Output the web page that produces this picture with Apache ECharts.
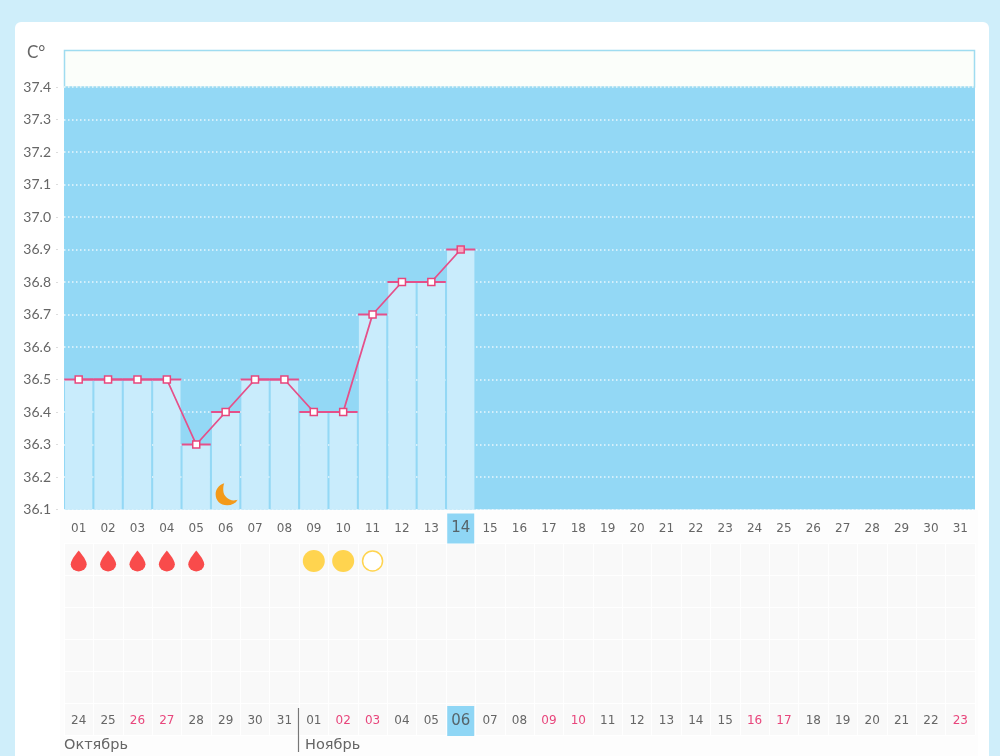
<!DOCTYPE html>
<html>
<head>
<meta charset="utf-8">
<style>
  html, body { margin: 0; padding: 0; width: 1000px; height: 756px; overflow: hidden; background: #cfeefa; }
  #card { position: absolute; left: 15px; top: 22px; width: 974px; height: 760px; background: #fff; border-radius: 6px; }
  #chart { position: absolute; left: 0; top: 0; width: 1000px; height: 756px; }
</style>
<script src="https://cdn.jsdelivr.net/npm/echarts@6/dist/echarts.min.js"></script>
</head>
<body>
<div id="card"></div>
<div id="chart"></div>
<script>
// chart data
const topDays = ['01','02','03','04','05','06','07','08','09','10','11','12','13','14','15','16','17','18','19','20','21','22','23','24','25','26','27','28','29','30','31'];
const bottomDays = ['24','25','26','27','28','29','30','31','01','02','03','04','05','06','07','08','09','10','11','12','13','14','15','16','17','18','19','20','21','22','23'];
const weekendDays = ['26','27','02','03','09','10','16','17','23'];
const temps = [36.5, 36.5, 36.5, 36.5, 36.3, 36.4, 36.5, 36.5, 36.4, 36.4, 36.7, 36.8, 36.8, 36.9];
const tableRows = ['r1', 'r2', 'r3', 'r4', 'r5', 'r6'];
const dropDays = ['01', '02', '03', '04', '05'];
const sunDays = ['09', '10'];
const emptySunDays = ['11'];
const moonDays = ['06'];
const todayTop = '14';
const todayBottom = '06';
const months = ['Октябрь', 'Ноябрь'];

const DROP = 'path://M8 0C8 0 0 10 0 15a8 8 0 0 0 16 0C16 10 8 0 8 0z';
const MOON = 'path://M9 0C3 2 0 7 0 12c0 7 5 12 12 12 5 0 9-2 11-6-1 .5-2 .7-4 .7-6 0-11-5-11-11 0-3 0-5 1-7.700z';
const PINK = '#e5508a';
const TEXT = '#666666';

const chart = echarts.init(document.getElementById('chart'));

const dayLabel = (today) => (v) => {
    if (v === today) return '{cur|' + v + '}';
    if (today === todayBottom && weekendDays.includes(v)) return '{red|' + v + '}';
    return v;
};
const richDay = {
    cur: { backgroundColor: '#8fd6f5', width: 27, height: 30, lineHeight: 30, align: 'center', fontSize: 15, color: '#56646a', fontFamily: 'DejaVu Sans' },
    red: { color: '#e8467c', fontSize: 12, fontFamily: 'DejaVu Sans' }
};

const option = {
    animation: false,
    backgroundColor: 'transparent',
    graphic: [
        { type: 'rect', z: -1, shape: { x: 60, y: 510, width: 918, height: 246 }, style: { fill: '#fdfdfd' } },
        { type: 'rect', shape: { x: 64.5, y: 50.5, width: 910, height: 36.5 }, style: { fill: '#fbfefa', stroke: '#9fdcf0', lineWidth: 1.5 } },
        { type: 'text', x: 27, y: 44, style: { text: 'C°', font: '17px Lato', fill: TEXT } },
        { type: 'text', x: 64, y: 738, style: { text: months[0], font: '14.5px "DejaVu Sans"', fill: TEXT } },
        { type: 'text', x: 305, y: 738, style: { text: months[1], font: '14.5px "DejaVu Sans"', fill: TEXT } },
        { type: 'line', z: 20, shape: { x1: 298.5, y1: 708, x2: 298.5, y2: 752 }, style: { stroke: '#777', lineWidth: 1.2 } }
    ],
    grid: [
        { left: 64, top: 87, width: 911, height: 422.5, show: true, backgroundColor: '#93d8f5', borderWidth: 0 },
        { left: 64, top: 543, width: 911, height: 192, show: true, backgroundColor: '#f9f9f9', borderWidth: 0 }
    ],
    xAxis: [
        {
            type: 'category', gridIndex: 0, data: topDays, position: 'bottom',
            axisLine: { show: false }, axisTick: { show: false },
            axisLabel: { interval: 0, margin: 19, verticalAlign: 'middle', color: TEXT, fontSize: 12, fontFamily: 'DejaVu Sans', formatter: dayLabel(todayTop), rich: richDay }
        },
        {
            type: 'category', gridIndex: 1, data: bottomDays, position: 'bottom',
            axisLine: { show: false }, axisTick: { show: false },
            splitLine: { show: true, interval: 0, lineStyle: { color: '#ffffff', width: 1 } },
            axisLabel: { inside: true, interval: 0, margin: 14, verticalAlign: 'middle', color: TEXT, fontSize: 12, fontFamily: 'DejaVu Sans', formatter: dayLabel(todayBottom), rich: richDay }
        }
    ],
    yAxis: [
        {
            type: 'value', gridIndex: 0, min: 36.1, max: 37.4, interval: 0.1, offset: 6,
            axisLine: { show: false }, axisTick: { show: true, length: 2, lineStyle: { color: '#dddddd' } },
            splitLine: { show: true, lineStyle: { color: '#ffffff', width: 1.5, type: [1.5, 2.5], opacity: 0.8 } },
            axisLabel: { margin: 7, color: TEXT, fontSize: 14, fontFamily: 'Lato', formatter: (v) => v.toFixed(1) }
        },
        {
            type: 'category', gridIndex: 1, data: tableRows, inverse: true,
            axisLine: { show: false }, axisTick: { show: false }, axisLabel: { show: false },
            splitLine: { show: true, interval: 0, lineStyle: { color: '#ffffff', width: 1 } }
        }
    ],
    series: [
        {
            type: 'bar', xAxisIndex: 0, yAxisIndex: 0, data: temps,
            barCategoryGap: '7%', itemStyle: { color: '#c9ecfc' }, silent: true
        },
        {
            // pink cap on top of each bar
            type: 'scatter', xAxisIndex: 0, yAxisIndex: 0, z: 3, silent: true,
            data: temps.map((v, i) => [i, v]),
            symbol: 'rect', symbolSize: [29, 2], itemStyle: { color: PINK, opacity: 1 }
        },
        {
            type: 'line', xAxisIndex: 0, yAxisIndex: 0, z: 4, silent: true,
            data: temps.map((v, i) => (topDays[i] === todayTop
                ? { value: v, itemStyle: { color: '#f6a9c2', borderColor: '#e8467c', borderWidth: 1.5 } }
                : v)),
            symbol: 'rect', symbolSize: 7, showAllSymbol: true,
            lineStyle: { color: PINK, width: 1.8 },
            itemStyle: { color: '#ffffff', borderColor: '#e8467c', borderWidth: 1.5 }
        },
        {
            type: 'scatter', xAxisIndex: 0, yAxisIndex: 0, z: 5, silent: true,
            data: moonDays.map((d) => [d, 36.15]),
            symbol: MOON, symbolSize: [22, 22], symbolOffset: [1, 1], itemStyle: { color: '#f39a1a', opacity: 1 }
        },
        {
            type: 'scatter', xAxisIndex: 1, yAxisIndex: 1, z: 5, silent: true,
            data: dropDays.map((d) => [bottomDays[topDays.indexOf(d)], tableRows[0]]),
            symbol: DROP, symbolSize: [16, 21], symbolOffset: [0, 2], itemStyle: { color: '#f94b4b', opacity: 1 }
        },
        {
            type: 'scatter', xAxisIndex: 1, yAxisIndex: 1, z: 5, silent: true,
            data: sunDays.map((d) => [bottomDays[topDays.indexOf(d)], tableRows[0]]),
            symbol: 'circle', symbolSize: 22, symbolOffset: [0, 2], itemStyle: { color: '#ffd44f', opacity: 1 }
        },
        {
            type: 'scatter', xAxisIndex: 1, yAxisIndex: 1, z: 5, silent: true,
            data: emptySunDays.map((d) => [bottomDays[topDays.indexOf(d)], tableRows[0]]),
            symbol: 'circle', symbolSize: 20, symbolOffset: [0, 2], itemStyle: { color: '#ffffff', borderColor: '#ffd44f', borderWidth: 1.5, opacity: 1 }
        }
    ]
};

chart.setOption(option);
</script>
</body>
</html>
